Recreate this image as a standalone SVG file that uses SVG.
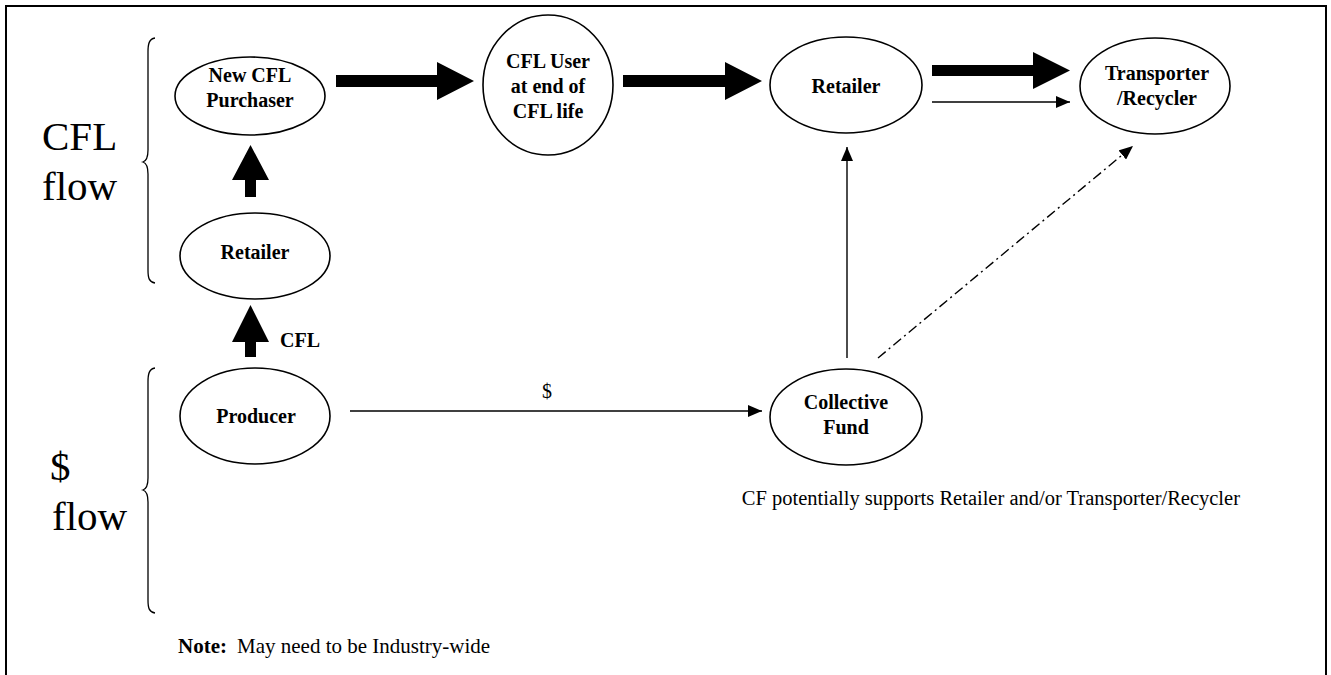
<svg xmlns="http://www.w3.org/2000/svg" width="1331" height="675" viewBox="0 0 1331 675">
  <defs>
    <marker id="head" viewBox="0 0 14 12" refX="14" refY="6" markerWidth="14" markerHeight="12" markerUnits="userSpaceOnUse" orient="auto">
      <path d="M0,0 L14,6 L0,12 Z" fill="#000"/>
    </marker>
    <style>
      .node ellipse { fill: #fff; stroke: #000; stroke-width: 1.6; }
      .node text, .lbl { font-family: "Liberation Serif", "Times New Roman", serif; font-size: 20px; font-weight: bold; text-anchor: middle; fill: #000; }
      .big { font-family: "Liberation Serif", "Times New Roman", serif; font-size: 41px; fill: #000; }
      .brace { fill: none; stroke: #000; stroke-width: 1.3; }
      .thin { fill: none; stroke: #000; stroke-width: 1.4; marker-end: url(#head); }
      .dashdot { stroke-dasharray: 10 4 2 4; }
      .fat { fill: #000; stroke: none; }
      .small { font-family: "Liberation Serif", "Times New Roman", serif; fill: #000; }
    </style>
  </defs>

  <rect width="1331" height="675" fill="#fff"/>

  <!-- outer frame (bottom edge falls off the page) -->
  <path d="M6,690 V6 H1326 V690" fill="none" stroke="#000" stroke-width="2"/>

  <!-- section labels with braces -->
  <text class="big" x="42" y="150">CFL</text>
  <text class="big" x="42" y="200">flow</text>
  <text class="big" x="50" y="480">$</text>
  <text class="big" x="52" y="530">flow</text>
  <path class="brace" d="M155,38 C149,39 148,44 148,52 V150 C148,157 146,161 143,162 C146,163 148,167 148,174 V270 C148,278 149,282 155,283"/>
  <path class="brace" d="M155,368 C149,369 148,374 148,382 V478 C148,485 146,489 143,490 C146,491 148,495 148,502 V600 C148,608 149,612 155,613"/>

  <!-- connectors -->
  <g id="connectors">
    <polygon class="fat" points="336,75 437,75 437,62 474,81 437,100 437,87 336,87"/>
    <polygon class="fat" points="623,75 725,75 725,62 762,81 725,100 725,87 623,87"/>
    <polygon class="fat" points="932,65 1033,65 1033,52 1070,70.5 1033,89 1033,76 932,76"/>
    <line class="thin" x1="932" y1="102" x2="1070" y2="102"/>
    <polygon class="fat" points="245,197 245,180 232,180 250.5,145 269,180 256,180 256,197"/>
    <polygon class="fat" points="245,357 245,342 232,342 250.5,305 269,342 256,342 256,357"/>
    <line class="thin" x1="350" y1="411" x2="762" y2="411"/>
    <line class="thin" x1="847" y1="358" x2="847" y2="147"/>
    <line class="thin dashdot" x1="878" y1="358" x2="1133" y2="146"/>
    <text class="lbl" x="300" y="347">CFL</text>
    <text class="small" x="547" y="398" font-size="20" text-anchor="middle">$</text>
  </g>

  <!-- nodes -->
  <g id="new-cfl-purchaser" class="node">
    <ellipse cx="250" cy="96" rx="75" ry="39"/>
    <text x="250" y="82">New CFL</text>
    <text x="250" y="107">Purchaser</text>
  </g>
  <g id="retailer-supply" class="node">
    <ellipse cx="255" cy="256" rx="75" ry="43"/>
    <text x="255" y="259">Retailer</text>
  </g>
  <g id="producer" class="node">
    <ellipse cx="255" cy="416" rx="75" ry="48"/>
    <text x="256" y="423">Producer</text>
  </g>
  <g id="cfl-user" class="node">
    <ellipse cx="548" cy="85" rx="65" ry="70"/>
    <text x="548" y="68">CFL User</text>
    <text x="548" y="93">at end of</text>
    <text x="548" y="118">CFL life</text>
  </g>
  <g id="retailer-return" class="node">
    <ellipse cx="846" cy="85" rx="76" ry="48"/>
    <text x="846" y="93">Retailer</text>
  </g>
  <g id="transporter-recycler" class="node">
    <ellipse cx="1155" cy="86" rx="75" ry="48"/>
    <text x="1157" y="80">Transporter</text>
    <text x="1157" y="105">/Recycler</text>
  </g>
  <g id="collective-fund" class="node">
    <ellipse cx="846" cy="417" rx="76" ry="48"/>
    <text x="846" y="409">Collective</text>
    <text x="846" y="434">Fund</text>
  </g>

  <!-- annotations -->
  <text class="small" x="1240" y="505" font-size="20.5" text-anchor="end">CF potentially supports Retailer and/or Transporter/Recycler</text>
  <text class="small" y="653" font-size="21"><tspan x="178" font-weight="bold">Note:</tspan><tspan x="237">May need to be Industry-wide</tspan></text>
</svg>
